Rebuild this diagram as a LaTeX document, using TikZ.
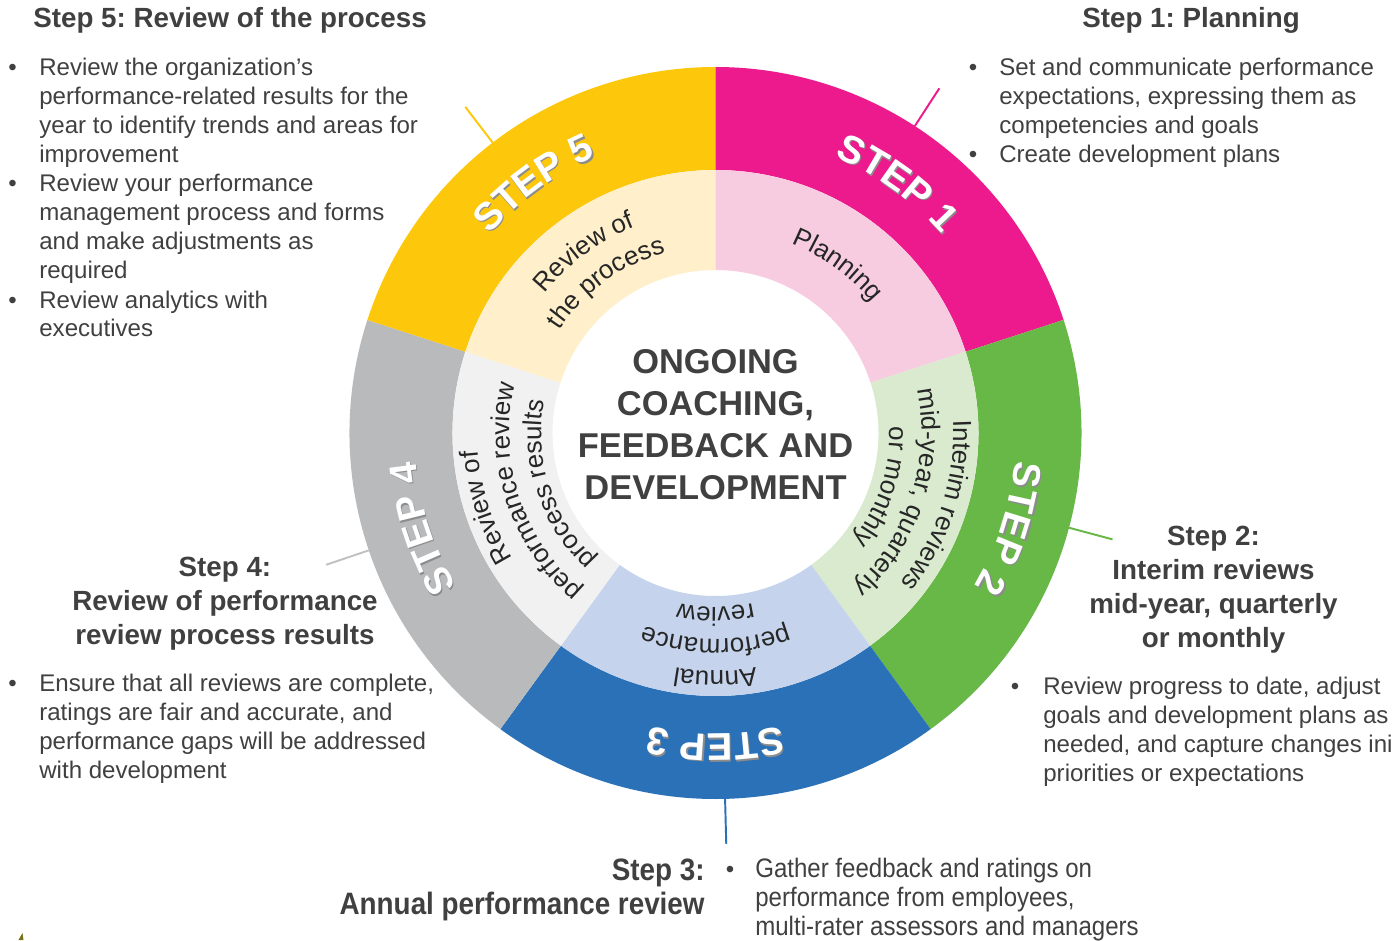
\documentclass[tikz,border=0pt]{standalone}
\usepackage{fontspec}
\setmainfont{Liberation Sans}
\newfontfamily\narrowsf[FakeStretch=0.9]{Liberation Sans}
\usetikzlibrary{decorations.text}
\frenchspacing

\definecolor{stepA}{HTML}{EC1A8C}
\definecolor{paleA}{HTML}{F8CCE0}
\definecolor{stepB}{HTML}{67B846}
\definecolor{paleB}{HTML}{D9EACF}
\definecolor{stepC}{HTML}{2A71B8}
\definecolor{paleC}{HTML}{C5D4EC}
\definecolor{stepD}{HTML}{B9BABC}
\definecolor{paleD}{HTML}{F1F1F1}
\definecolor{stepE}{HTML}{FDC70C}
\definecolor{paleE}{HTML}{FFEFCB}
\definecolor{ink}{HTML}{404040}
\definecolor{ringink}{HTML}{262626}

\newcommand\stepfont{\fontsize{22}{22}\selectfont\bfseries}
\newcommand\ringfont{\fontsize{14.8}{14.8}\selectfont}

\tikzstyle{head}=[inner sep=0pt,text=ink,font=\fontsize{15.8}{19.3}\selectfont\bfseries]
\tikzstyle{body}=[inner sep=0pt,text=ink,font=\fontsize{13.7}{16.5}\selectfont,anchor=base west]
\tikzstyle{dot}=[inner sep=0pt,text=ink,font=\fontsize{13.7}{16.5}\selectfont,anchor=base]
\tikzstyle{headthree}=[inner sep=0pt,text=ink,font=\narrowsf\fontsize{17.6}{19.3}\selectfont\bfseries,anchor=base east]
\tikzstyle{bodythree}=[inner sep=0pt,text=ink,font=\narrowsf\fontsize{15.2}{16.5}\selectfont,anchor=base west]
\tikzstyle{leader}=[line width=1.1pt]
\tikzset{arctext/.style={decorate,decoration={text along path,text align=center,text={#1}}}}

\begin{document}
\begin{tikzpicture}[x=0.02cm,y=0.02cm]
\fill[white] (-715.5,-507) rectangle (680.5,433);
\useasboundingbox (-715.5,-507) rectangle (680.5,433);

% outer ring
\fill[stepA] (90:366) arc[start angle=90,end angle=18,radius=366] -- (18:263) arc[start angle=18,end angle=90,radius=263] -- cycle;
\fill[stepB] (18:366) arc[start angle=18,end angle=-54,radius=366] -- (-54:263) arc[start angle=-54,end angle=18,radius=263] -- cycle;
\fill[stepC] (-54:366) arc[start angle=-54,end angle=-126,radius=366] -- (-126:263) arc[start angle=-126,end angle=-54,radius=263] -- cycle;
\fill[stepD] (234:366) arc[start angle=234,end angle=162,radius=366] -- (162:263) arc[start angle=162,end angle=234,radius=263] -- cycle;
\fill[stepE] (162:366) arc[start angle=162,end angle=90,radius=366] -- (90:263) arc[start angle=90,end angle=162,radius=263] -- cycle;

% inner ring
\fill[paleA] (90:263) arc[start angle=90,end angle=18,radius=263] -- (18:163) arc[start angle=18,end angle=90,radius=163] -- cycle;
\fill[paleB] (18:263) arc[start angle=18,end angle=-54,radius=263] -- (-54:163) arc[start angle=-54,end angle=18,radius=163] -- cycle;
\fill[paleC] (-54:263) arc[start angle=-54,end angle=-126,radius=263] -- (-126:163) arc[start angle=-126,end angle=-54,radius=163] -- cycle;
\fill[paleD] (234:263) arc[start angle=234,end angle=162,radius=263] -- (162:163) arc[start angle=162,end angle=234,radius=163] -- cycle;
\fill[paleE] (162:263) arc[start angle=162,end angle=90,radius=263] -- (90:163) arc[start angle=90,end angle=162,radius=163] -- cycle;

% step labels, shadow first
\path[arctext={|\stepfont\color{black!45}|STEP 1},shift={(1.2,-1.6)}] (114:301) arc[start angle=114,end angle=-6,radius=301];
\path[arctext={|\stepfont\color{black!45}|STEP 2},shift={(1.2,-1.6)}] (42:301) arc[start angle=42,end angle=-78,radius=301];
\path[arctext={|\stepfont\color{black!45}|STEP 3},shift={(1.2,-1.6)}] (-30:301) arc[start angle=-30,end angle=-150,radius=301];
\path[arctext={|\stepfont\color{black!45}|STEP 4},shift={(1.2,-1.6)}] (258:301) arc[start angle=258,end angle=138,radius=301];
\path[arctext={|\stepfont\color{black!45}|STEP 5},shift={(1.2,-1.6)}] (186:301) arc[start angle=186,end angle=66,radius=301];
\path[arctext={|\stepfont\color{white}|STEP 1}] (114:301) arc[start angle=114,end angle=-6,radius=301];
\path[arctext={|\stepfont\color{white}|STEP 2}] (42:301) arc[start angle=42,end angle=-78,radius=301];
\path[arctext={|\stepfont\color{white}|STEP 3}] (-30:301) arc[start angle=-30,end angle=-150,radius=301];
\path[arctext={|\stepfont\color{white}|STEP 4}] (258:301) arc[start angle=258,end angle=138,radius=301];
\path[arctext={|\stepfont\color{white}|STEP 5}] (186:301) arc[start angle=186,end angle=66,radius=301];

% inner ring texts
\path[arctext={|\ringfont\color{ringink}|Planning}] (114:204) arc[start angle=114,end angle=-6,radius=204];
\path[arctext={|\ringfont\color{ringink}|Interim reviews}] (42:238) arc[start angle=42,end angle=-78,radius=238];
\path[arctext={|\ringfont\color{ringink}|mid-year, quarterly}] (42:206) arc[start angle=42,end angle=-78,radius=206];
\path[arctext={|\ringfont\color{ringink}|or monthly}] (42:174) arc[start angle=42,end angle=-78,radius=174];
\path[arctext={|\ringfont\color{ringink}|Annual}] (-30:238) arc[start angle=-30,end angle=-150,radius=238];
\path[arctext={|\ringfont\color{ringink}|performance}] (-30:206) arc[start angle=-30,end angle=-150,radius=206];
\path[arctext={|\ringfont\color{ringink}|review}] (-30:174) arc[start angle=-30,end angle=-150,radius=174];
\path[arctext={|\ringfont\color{ringink}|Review of}] (258:238) arc[start angle=258,end angle=138,radius=238];
\path[arctext={|\ringfont\color{ringink}|performance review}] (258:206) arc[start angle=258,end angle=138,radius=206];
\path[arctext={|\ringfont\color{ringink}|process results}] (258:174) arc[start angle=258,end angle=138,radius=174];
\path[arctext={|\ringfont\color{ringink}|Review of}] (186:221) arc[start angle=186,end angle=66,radius=221];
\path[arctext={|\ringfont\color{ringink}|the process}] (186:187) arc[start angle=186,end angle=66,radius=187];

\node[text=ink,align=center,inner sep=0pt,font=\fontsize{19.6}{23.9}\selectfont\bfseries] (core) at (0,8.5) {ONGOING\\COACHING,\\FEEDBACK AND\\DEVELOPMENT};

% leader lines
\coordinate (lA1) at (57:366);
\coordinate (lA2) at (57:411);
\coordinate (lB1) at (-15:366);
\coordinate (lB2) at (-15:411);
\coordinate (lC1) at (-88.5:366);
\coordinate (lC2) at (-88.5:411);
\coordinate (lD1) at (198.7:366);
\coordinate (lD2) at (198.7:411);
\coordinate (lE1) at (127.5:366);
\coordinate (lE2) at (127.5:411);
\draw[leader,stepA] (lA1) -- (lA2);
\draw[leader,stepB] (lB1) -- (lB2);
\draw[leader,stepC] (lC1) -- (lC2);
\draw[leader,stepD!90!white] (lD1) -- (lD2);
\draw[leader,stepE] (lE1) -- (lE2);

% step 5
\node[head,anchor=base west] (h5) at (-682.5,405) {Step 5: Review of the process};
\node[dot] (d5a) at (-703,357) {•};
\node[body] (t5a) at (-676.5,357) {Review the organization’s};
\node[body] (t5b) at (-676.5,328) {performance-related results for the};
\node[body] (t5c) at (-676.5,299) {year to identify trends and areas for};
\node[body] (t5d) at (-676.5,270) {improvement};
\node[dot] (d5b) at (-703,241) {•};
\node[body] (t5e) at (-676.5,241) {Review your performance};
\node[body] (t5f) at (-676.5,212) {management process and forms};
\node[body] (t5g) at (-676.5,183) {and make adjustments as};
\node[body] (t5h) at (-676.5,154) {required};
\node[dot] (d5c) at (-703,125) {•};
\node[body] (t5i) at (-676.5,125) {Review analytics with};
\node[body] (t5j) at (-676.5,96) {executives};

% step 1
\node[head,anchor=base west] (h1) at (366.5,405) {Step 1: Planning};
\node[dot] (d1a) at (257.5,357) {•};
\node[body] (t1a) at (283.5,357) {Set and communicate performance};
\node[body] (t1b) at (283.5,328) {expectations, expressing them as};
\node[body] (t1c) at (283.5,299) {competencies and goals};
\node[dot] (d1b) at (257.5,270) {•};
\node[body] (t1d) at (283.5,270) {Create development plans};

% step 2
\node[head,anchor=base] (h2a) at (498,-112) {Step 2:};
\node[head,anchor=base] (h2b) at (498,-146) {Interim reviews};
\node[head,anchor=base] (h2c) at (498,-180) {mid-year, quarterly};
\node[head,anchor=base] (h2d) at (498,-214) {or monthly};
\node[dot] (d2a) at (299.5,-261) {•};
\node[body] (t2a) at (327.5,-261) {Review progress to date, adjust};
\node[body] (t2b) at (327.5,-290) {goals and development plans as};
\node[body] (t2c) at (327.5,-319) {needed, and capture changes ini};
\node[body] (t2d) at (327.5,-348) {priorities or expectations};

% step 3
\node[headthree] (h3a) at (-10.5,-447) {Step 3:};
\node[headthree] (h3b) at (-10.5,-481) {Annual performance review};
\node[dot] (d3a) at (14.5,-444) {•};
\node[bodythree] (t3a) at (39.5,-444) {Gather feedback and ratings on};
\node[bodythree] (t3b) at (39.5,-473) {performance from employees,};
\node[bodythree] (t3c) at (39.5,-502) {multi-rater assessors and managers};

% step 4
\node[head,anchor=base] (h4a) at (-490.5,-143) {Step 4:};
\node[head,anchor=base] (h4b) at (-490.5,-177) {Review of performance};
\node[head,anchor=base] (h4c) at (-490.5,-211) {review process results};
\node[dot] (d4a) at (-703,-258) {•};
\node[body] (t4a) at (-676.5,-258) {Ensure that all reviews are complete,};
\node[body] (t4b) at (-676.5,-287) {ratings are fair and accurate, and};
\node[body] (t4c) at (-676.5,-316) {performance gaps will be addressed};
\node[body] (t4d) at (-676.5,-345) {with development};

% corner mark
\fill[olive!80!black] (-697,-507) -- (-693,-500) -- (-692,-507) -- cycle;
\end{tikzpicture}
\end{document}
